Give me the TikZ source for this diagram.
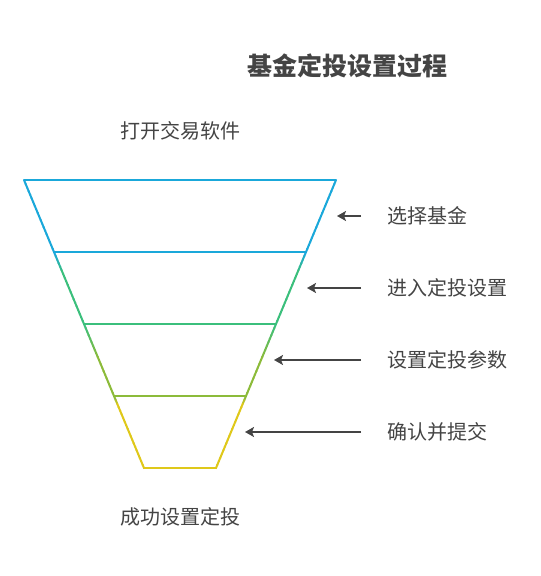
\documentclass[tikz,border=0pt]{standalone}
\usepackage{fontspec}
\usepackage{xcolor}
\usepackage{tikz}
\usetikzlibrary{positioning, arrows.meta, calc}
\setmainfont{Noto Sans CJK SC}
\definecolor{funnelblue}{HTML}{1AA8DA}
\definecolor{funnelgreen}{HTML}{3BBF7C}
\definecolor{funnelolive}{HTML}{8CBB3A}
\definecolor{funnelyellow}{HTML}{DFC81A}
\definecolor{textgray}{HTML}{444444}

\tikzset{
  stagetext/.style={text=textgray, font=\fontsize{20}{23}\selectfont, inner sep=0pt},
  pointer/.style={draw=textgray, line width=2pt, -{Stealth[length=9pt, width=10pt, inset=2pt]}},
  level/.style={line width=2pt, line cap=round}
}

\begin{document}
\begin{tikzpicture}[x=1pt, y=-1pt]
    \useasboundingbox (0,0) rectangle (541,576);
    % funnel corners, top to bottom
    \coordinate (L0) at (24,180);  \coordinate (R0) at (336,180);
    \coordinate (L1) at (54,252);  \coordinate (R1) at (306,252);
    \coordinate (L2) at (84,324);  \coordinate (R2) at (276,324);
    \coordinate (L3) at (114,396); \coordinate (R3) at (246,396);
    \coordinate (L4) at (144,468); \coordinate (R4) at (216,468);

    % horizontal levels
    \draw[level, funnelblue]   (L0) -- (R0);
    \draw[level, funnelblue]   (L1) -- (R1);
    \draw[level, funnelgreen]  (L2) -- (R2);
    \draw[level, funnelolive]  (L3) -- (R3);
    \draw[level, funnelyellow] (L4) -- (R4);

    % sides: each segment takes its lower colour after a short fade
    \foreach \a/\b/\ca/\cb/\fade in {0/1/funnelblue/funnelblue/0.2, 1/2/funnelblue/funnelgreen/0.25,
                                     2/3/funnelgreen/funnelolive/0.45, 3/4/funnelolive/funnelyellow/0.1}{
      \foreach \s in {0,...,19}{
        \pgfmathsetmacro{\mix}{100*min(1,(\s/20)/\fade)}
        \draw[line width=2pt, \cb!\mix!\ca]
          ($(L\a)!\s/20!(L\b)$) -- ($(L\a)!\s/20+0.06!(L\b)$);
        \draw[line width=2pt, \cb!\mix!\ca]
          ($(R\a)!\s/20!(R\b)$) -- ($(R\a)!\s/20+0.06!(R\b)$);
      }
    }

    % title and end texts
    \node[text=textgray, font=\fontsize{25}{28}\selectfont\bfseries, inner sep=0pt] (title) at (347,66) {基金定投设置过程};
    \node[stagetext] (start) at (180,131) {打开交易软件};
    \node[stagetext] (finish) at (180,517) {成功设置定投};

    % stage labels and pointers
    \foreach \i/\tip/\y/\txt in {1/337/216/选择基金, 2/307/288/进入定投设置,
                                 3/274/360/设置定投参数, 4/245/432/确认并提交}{
      \node[stagetext, anchor=west] (stage\i) at (387,\y) {\txt};
      \coordinate (tail\i) at (361,\y);
      \coordinate (tip\i) at (\tip,\y);
      \draw[pointer] (tail\i) -- (tip\i);
    }
\end{tikzpicture}
\end{document}
